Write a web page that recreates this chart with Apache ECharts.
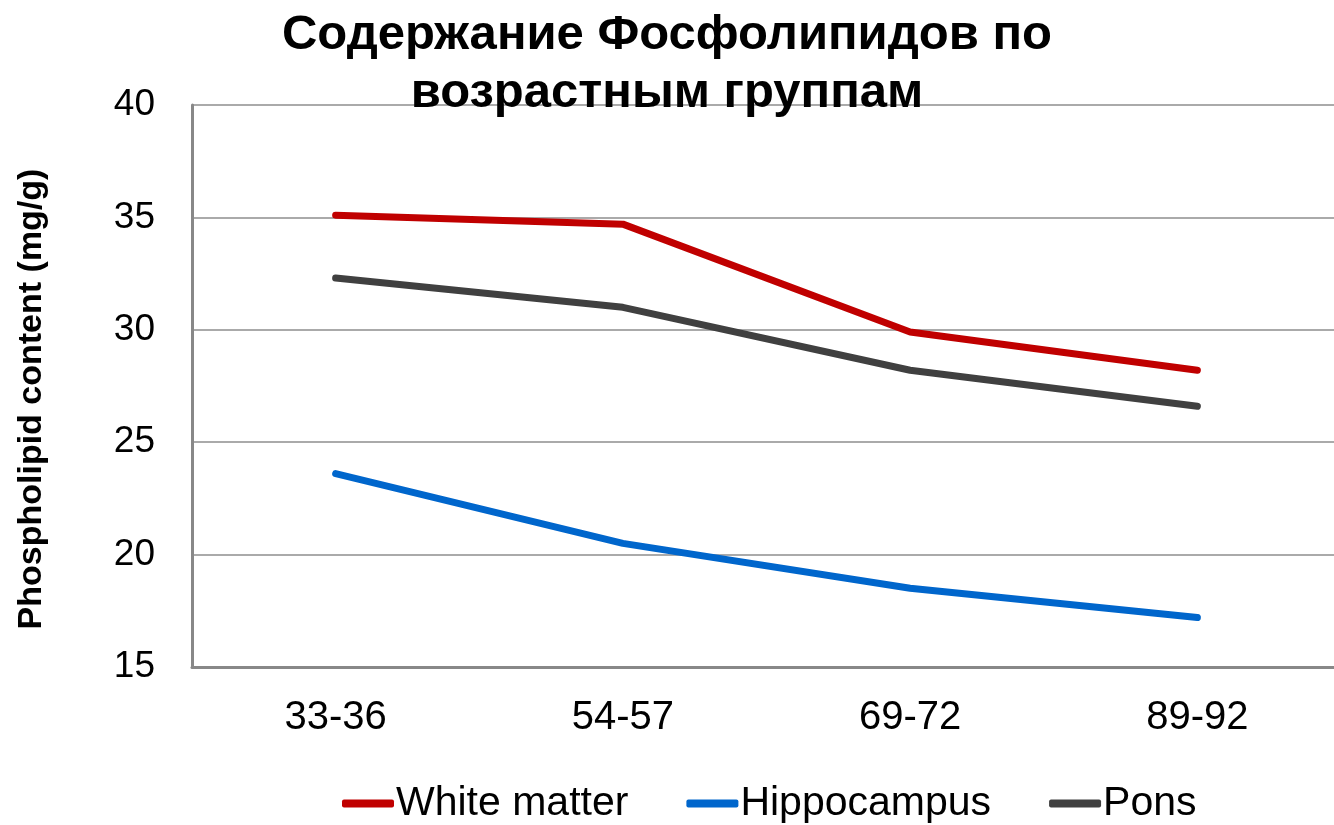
<!DOCTYPE html>
<html>
<head>
<meta charset="utf-8">
<script src="https://cdn.jsdelivr.net/npm/echarts@6/dist/echarts.min.js"></script>
<style>
  html, body { margin: 0; padding: 0; background: #fff; }
  #chart { width: 1334px; height: 825px; }
</style>
</head>
<body>
<div id="chart"></div>
<script>
// возрастные группы
const ageGroups = ['33-36', '54-57', '69-72', '89-92'];
const whiteMatter = [35.1, 34.7, 29.9, 28.2];
const hippocampus = [23.6, 20.5, 18.5, 17.2];
const pons = [32.3, 31.0, 28.2, 26.6];

const chart = echarts.init(document.getElementById('chart'));

const lineSeries = (name, data, color) => ({
  name: name,
  type: 'line',
  data: data,
  symbol: 'none',
  lineStyle: { width: 7, color: color, cap: 'round' },
  itemStyle: { color: color }
});

chart.setOption({
  animation: false,
  title: {
    text: 'Содержание Фосфолипидов по\nвозрастным группам',
    left: 'center',
    top: 1,
    textStyle: {
      fontFamily: 'Liberation Sans',
      fontWeight: 'bold',
      fontSize: 49,
      lineHeight: 58,
      color: '#000'
    }
  },
  legend: {
    top: 778,
    left: 337,
    itemWidth: 52,
    itemHeight: 8,
    itemGap: 58,
    icon: 'roundRect',
    textStyle: {
      fontFamily: 'Liberation Sans',
      fontSize: 41,
      color: '#000',
      padding: [0, 0, 0, -3]
    },
    data: ['White matter', 'Hippocampus', 'Pons']
  },
  grid: { left: 192, width: 1149, top: 105, height: 562, outerBoundsMode: 'none', containLabel: false },
  xAxis: {
    type: 'category',
    data: ageGroups,
    boundaryGap: true,
    axisLine: { lineStyle: { color: '#888', width: 3 } },
    axisTick: { show: false },
    axisLabel: {
      margin: 31,
      fontFamily: 'Liberation Sans',
      fontSize: 40,
      color: '#000'
    }
  },
  yAxis: {
    type: 'value',
    min: 15,
    max: 40,
    interval: 5,
    name: 'Phospholipid content (mg/g)',
    nameLocation: 'middle',
    nameGap: 143,
    nameTextStyle: {
      fontFamily: 'Liberation Sans',
      fontWeight: 'bold',
      fontSize: 34,
      color: '#000',
      padding: [0, 26, 0, 0]
    },
    axisLine: { show: true, lineStyle: { color: '#888', width: 3 } },
    axisTick: { show: false },
    splitLine: { lineStyle: { color: '#aaa', width: 2 } },
    axisLabel: {
      margin: 37,
      fontFamily: 'Liberation Sans',
      fontSize: 37,
      color: '#000'
    }
  },
  series: [
    lineSeries('White matter', whiteMatter, '#C00000'),
    lineSeries('Hippocampus', hippocampus, '#0066CC'),
    lineSeries('Pons', pons, '#404040')
  ]
});
</script>
</body>
</html>
